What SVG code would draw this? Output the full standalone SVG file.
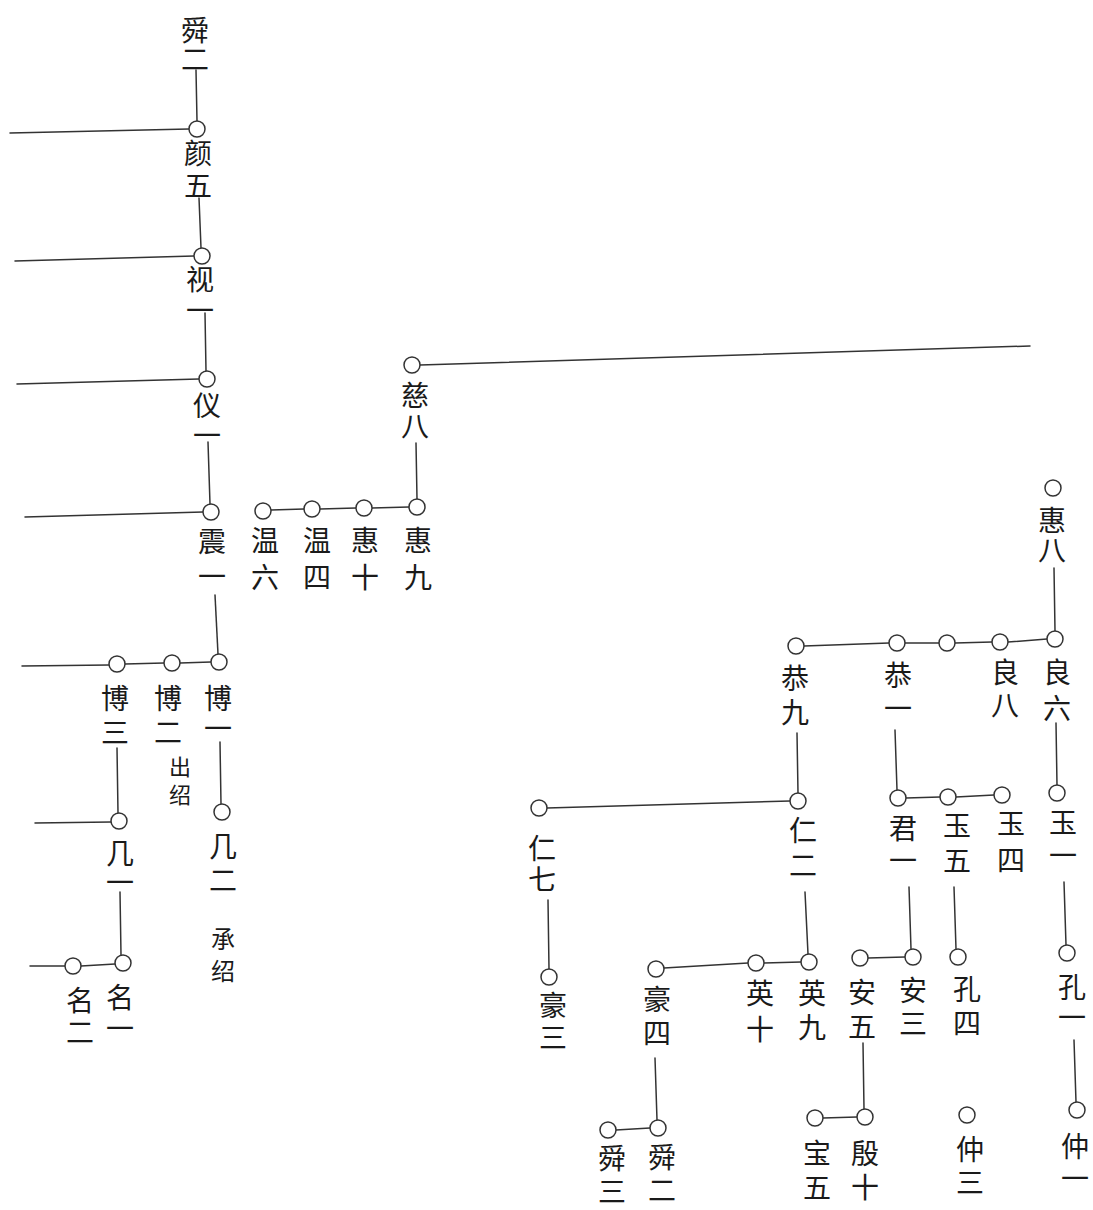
<svg xmlns="http://www.w3.org/2000/svg" width="1093" height="1210" viewBox="0 0 1093 1210">
<style>
.c{fill:#fff;stroke:#333;stroke-width:1.5}
.l{stroke:#333;stroke-width:1.5;fill:none;stroke-linecap:round}
text{font-family:"Noto Sans CJK SC","Noto Sans CJK TC",sans-serif;font-size:28px;fill:#1a1a1a;writing-mode:vertical-rl;text-anchor:start}
.s{font-size:22px}
.m{font-size:24px}
</style>
<rect width="1093" height="1210" fill="#fff"/>
<g id="connectors">
<line class="l" x1="196" y1="70" x2="197" y2="121"/>
<line class="l" x1="10" y1="133" x2="189" y2="129"/>
<line class="l" x1="199" y1="198" x2="201" y2="248"/>
<line class="l" x1="15" y1="261" x2="194" y2="256"/>
<line class="l" x1="205" y1="313" x2="206" y2="371"/>
<line class="l" x1="17" y1="384" x2="199" y2="379"/>
<line class="l" x1="208" y1="442" x2="210" y2="504"/>
<line class="l" x1="25" y1="517" x2="203" y2="512"/>
<line class="l" x1="215" y1="595" x2="218" y2="654"/>
<line class="l" x1="271" y1="510" x2="304" y2="509"/>
<line class="l" x1="320" y1="509" x2="356" y2="508"/>
<line class="l" x1="372" y1="508" x2="409" y2="507"/>
<line class="l" x1="416" y1="443" x2="417" y2="499"/>
<line class="l" x1="420" y1="365" x2="1030" y2="346"/>
<line class="l" x1="22" y1="666" x2="109" y2="665"/>
<line class="l" x1="125" y1="664" x2="164" y2="663"/>
<line class="l" x1="180" y1="663" x2="211" y2="662"/>
<line class="l" x1="220" y1="742" x2="221" y2="804"/>
<line class="l" x1="117" y1="748" x2="118" y2="813"/>
<line class="l" x1="35" y1="823" x2="111" y2="822"/>
<line class="l" x1="120" y1="892" x2="121" y2="955"/>
<line class="l" x1="81" y1="966" x2="115" y2="964"/>
<line class="l" x1="30" y1="966" x2="65" y2="966"/>
<line class="l" x1="1054" y1="568" x2="1055" y2="631"/>
<line class="l" x1="1047" y1="639" x2="1008" y2="642"/>
<line class="l" x1="992" y1="642" x2="955" y2="643"/>
<line class="l" x1="939" y1="643" x2="905" y2="643"/>
<line class="l" x1="889" y1="643" x2="804" y2="646"/>
<line class="l" x1="797" y1="733" x2="798" y2="793"/>
<line class="l" x1="790" y1="801" x2="547" y2="808"/>
<line class="l" x1="548" y1="900" x2="549" y2="969"/>
<line class="l" x1="805" y1="892" x2="808" y2="954"/>
<line class="l" x1="801" y1="962" x2="764" y2="963"/>
<line class="l" x1="748" y1="963" x2="664" y2="968"/>
<line class="l" x1="655" y1="1058" x2="657" y2="1120"/>
<line class="l" x1="650" y1="1128" x2="616" y2="1130"/>
<line class="l" x1="895" y1="730" x2="897" y2="790"/>
<line class="l" x1="906" y1="798" x2="940" y2="797"/>
<line class="l" x1="956" y1="797" x2="994" y2="795"/>
<line class="l" x1="1056" y1="723" x2="1057" y2="785"/>
<line class="l" x1="909" y1="887" x2="911" y2="949"/>
<line class="l" x1="905" y1="957" x2="868" y2="958"/>
<line class="l" x1="954" y1="887" x2="956" y2="949"/>
<line class="l" x1="1064" y1="882" x2="1066" y2="945"/>
<line class="l" x1="863" y1="1043" x2="864" y2="1109"/>
<line class="l" x1="857" y1="1117" x2="823" y2="1118"/>
<line class="l" x1="1074" y1="1040" x2="1076" y2="1102"/>
</g>
<g id="n_shun2_top"><text x="195" y="16" style="letter-spacing:1px">舜二</text></g>
<g id="n_yan5"><circle class="c" cx="197" cy="129" r="8"/><text x="198" y="139" style="letter-spacing:4px">颜五</text></g>
<g id="n_shi1"><circle class="c" cx="202" cy="256" r="8"/><text x="200" y="265" style="letter-spacing:3px">视一</text></g>
<g id="n_yi1"><circle class="c" cx="207" cy="379" r="8"/><text x="207" y="391" style="letter-spacing:2px">仪一</text></g>
<g id="n_zhen1"><circle class="c" cx="211" cy="512" r="8"/><text x="212" y="527" style="letter-spacing:7px">震一</text></g>
<g id="n_wen6"><circle class="c" cx="263" cy="511" r="8"/><text x="265" y="526" style="letter-spacing:9px">温六</text></g>
<g id="n_wen4"><circle class="c" cx="312" cy="509" r="8"/><text x="317" y="526" style="letter-spacing:9px">温四</text></g>
<g id="n_hui10"><circle class="c" cx="364" cy="508" r="8"/><text x="365" y="526" style="letter-spacing:9px">惠十</text></g>
<g id="n_hui9"><circle class="c" cx="417" cy="507" r="8"/><text x="418" y="526" style="letter-spacing:9px">惠九</text></g>
<g id="n_ci8"><circle class="c" cx="412" cy="365" r="8"/><text x="415" y="381" style="letter-spacing:3px">慈八</text></g>
<g id="n_bo1"><circle class="c" cx="219" cy="662" r="8"/><text x="218" y="684" style="letter-spacing:2px">博一</text></g>
<g id="n_bo2"><circle class="c" cx="172" cy="663" r="8"/><text x="168" y="684" style="letter-spacing:6px">博二</text><text class="s" x="180" y="756" style="letter-spacing:6px">出绍</text></g>
<g id="n_bo3"><circle class="c" cx="117" cy="664" r="8"/><text x="115" y="684" style="letter-spacing:6px">博三</text></g>
<g id="n_ji2"><circle class="c" cx="222" cy="812" r="8"/><text x="223" y="832" style="letter-spacing:6px">几二</text><text class="m" x="223" y="927" style="letter-spacing:8px">承绍</text></g>
<g id="n_ji1"><circle class="c" cx="119" cy="821" r="8"/><text x="120" y="839" style="letter-spacing:1px">几一</text></g>
<g id="n_ming1"><circle class="c" cx="123" cy="963" r="8"/><text x="120" y="983" style="letter-spacing:3px">名一</text></g>
<g id="n_ming2"><circle class="c" cx="73" cy="966" r="8"/><text x="80" y="986" style="letter-spacing:4px">名二</text></g>
<g id="n_hui8"><circle class="c" cx="1053" cy="488" r="8"/><text x="1052" y="506" style="letter-spacing:2px">惠八</text></g>
<g id="n_liang6"><circle class="c" cx="1055" cy="639" r="8"/><text x="1057" y="658" style="letter-spacing:8px">良六</text></g>
<g id="n_liang8"><circle class="c" cx="1000" cy="642" r="8"/><text x="1005" y="658" style="letter-spacing:5px">良八</text></g>
<g id="n_unnamed"><circle class="c" cx="947" cy="643" r="8"/></g>
<g id="n_gong1"><circle class="c" cx="897" cy="643" r="8"/><text x="898" y="661" style="letter-spacing:5px">恭一</text></g>
<g id="n_gong9"><circle class="c" cx="796" cy="646" r="8"/><text x="795" y="664" style="letter-spacing:6px">恭九</text></g>
<g id="n_ren2"><circle class="c" cx="798" cy="801" r="8"/><text x="803" y="816" style="letter-spacing:7px">仁二</text></g>
<g id="n_ren7"><circle class="c" cx="539" cy="808" r="8"/><text x="542" y="834" style="letter-spacing:3px">仁七</text></g>
<g id="n_hao3"><circle class="c" cx="549" cy="977" r="8"/><text x="553" y="991" style="letter-spacing:4px">豪三</text></g>
<g id="n_jun1"><circle class="c" cx="898" cy="798" r="8"/><text x="903" y="814" style="letter-spacing:4px">君一</text></g>
<g id="n_yu5"><circle class="c" cx="948" cy="797" r="8"/><text x="957" y="811" style="letter-spacing:7px">玉五</text></g>
<g id="n_yu4"><circle class="c" cx="1002" cy="795" r="8"/><text x="1011" y="809" style="letter-spacing:9px">玉四</text></g>
<g id="n_yu1"><circle class="c" cx="1057" cy="793" r="8"/><text x="1063" y="808" style="letter-spacing:5px">玉一</text></g>
<g id="n_ying9"><circle class="c" cx="809" cy="962" r="8"/><text x="812" y="979" style="letter-spacing:6px">英九</text></g>
<g id="n_ying10"><circle class="c" cx="756" cy="963" r="8"/><text x="760" y="979" style="letter-spacing:8px">英十</text></g>
<g id="n_hao4"><circle class="c" cx="656" cy="969" r="8"/><text x="657" y="985" style="letter-spacing:6px">豪四</text></g>
<g id="n_an5"><circle class="c" cx="860" cy="958" r="8"/><text x="862" y="978" style="letter-spacing:6px">安五</text></g>
<g id="n_an3"><circle class="c" cx="913" cy="957" r="8"/><text x="913" y="976" style="letter-spacing:5px">安三</text></g>
<g id="n_kong4"><circle class="c" cx="958" cy="957" r="8"/><text x="967" y="975" style="letter-spacing:6px">孔四</text></g>
<g id="n_kong1"><circle class="c" cx="1067" cy="953" r="8"/><text x="1072" y="973" style="letter-spacing:2px">孔一</text></g>
<g id="n_shun2"><circle class="c" cx="658" cy="1128" r="8"/><text x="662" y="1143" style="letter-spacing:5px">舜二</text></g>
<g id="n_shun3"><circle class="c" cx="608" cy="1130" r="8"/><text x="612" y="1144" style="letter-spacing:5px">舜三</text></g>
<g id="n_yin10"><circle class="c" cx="865" cy="1117" r="8"/><text x="865" y="1139" style="letter-spacing:6px">殷十</text></g>
<g id="n_bao5"><circle class="c" cx="815" cy="1118" r="8"/><text x="817" y="1139" style="letter-spacing:6px">宝五</text></g>
<g id="n_zhong3"><circle class="c" cx="967" cy="1115" r="8"/><text x="970" y="1135" style="letter-spacing:5px">仲三</text></g>
<g id="n_zhong1"><circle class="c" cx="1077" cy="1110" r="8"/><text x="1075" y="1132" style="letter-spacing:4px">仲一</text></g>
</svg>
